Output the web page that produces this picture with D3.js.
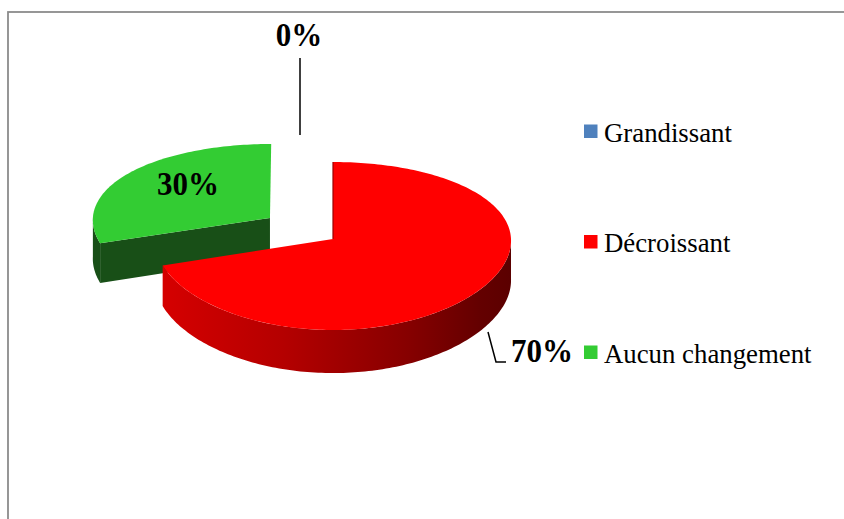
<!DOCTYPE html>
<html>
<head>
<meta charset="utf-8">
<script src="https://cdn.jsdelivr.net/npm/d3@7"></script>
<style>
  html, body { margin: 0; padding: 0; background: #fff; }
  svg { display: block; }
</style>
</head>
<body>
<svg id="chart" width="844" height="519"></svg>
<script>
// Répartition des réponses
const categories = ["Grandissant", "Décroissant", "Aucun changement"];
const values = [0, 70, 30];
const labels = ["0%", "70%", "30%"];
const colors = ["#4f81bd", "#ff0000", "#33cc33"];
const exploded = [false, false, true];

const svg = d3.select("#chart");

// chart frame
svg.append("rect")
  .attr("x", 8).attr("y", 12)
  .attr("width", 900).attr("height", 600)
  .attr("fill", "none")
  .attr("stroke", "#8c8c8c")
  .attr("stroke-width", 1.8);

// 3D pie projection: u = sin(angle), v = -cos(angle) on a unit disc,
// z = depth below the top face (scaled by perspective like the disc)
const cx = 333, cy = 239, RX = 178, RY = 83.4, kx = 0.02, ky = 0.0833, H = 39.5;
const explode = 0.44;
function proj(u, v, z) {
  return [cx + RX * u / (1 - kx * v), cy + (RY * v + z) / (1 - ky * v)];
}
function rim(a, off, z) {
  return proj(off[0] + Math.sin(a), off[1] - Math.cos(a), z);
}
function arcPts(a0, a1, off, z) {
  const n = Math.max(2, Math.ceil(Math.abs(a1 - a0) / 0.02));
  return d3.range(n + 1).map(i => rim(a0 + (a1 - a0) * i / n, off, z));
}
const line = d3.line();

const pie = d3.pie().sort(null).value(d => d)(values);

const defs = svg.append("defs");
const grad = defs.append("linearGradient")
  .attr("id", "sideRed")
  .attr("gradientUnits", "userSpaceOnUse")
  .attr("x1", 160).attr("y1", 0).attr("x2", 515).attr("y2", 0);
[[0, "#d60000"], [0.35, "#b40000"], [0.7, "#860000"], [0.9, "#640000"], [1, "#5a0000"]]
  .forEach(s => grad.append("stop").attr("offset", s[0]).attr("stop-color", s[1]));

const sideFill = ["#2a4a7a", "url(#sideRed)", "#184f17"];

const g = svg.append("g");
// draw back slices first (exploded slice sits behind)
const order = [2, 1, 0];
order.forEach(i => {
  const p = pie[i];
  if (p.endAngle - p.startAngle <= 0) return;
  const a0 = p.startAngle, a1 = p.endAngle, mid = (a0 + a1) / 2;
  const off = exploded[i] ? [explode * Math.sin(mid), -explode * Math.cos(mid)] : [0, 0];
  const c0 = proj(off[0], off[1], 0), c1 = proj(off[0], off[1], H);

  // radial face at the start edge, visible when it faces the viewer
  if (-Math.sin(a0) > 0.01) {
    const o0 = rim(a0, off, 0), o1 = rim(a0, off, H);
    g.append("path")
      .attr("d", line([c0, o0, o1, c1]) + "Z")
      .attr("fill", sideFill[i]);
  }
  // radial face at the end edge
  if (Math.sin(a1) > 0.01) {
    const o0 = rim(a1, off, 0), o1 = rim(a1, off, H);
    g.append("path")
      .attr("d", line([c0, o0, o1, c1]) + "Z")
      .attr("fill", sideFill[i]);
  }
  // outer wall on the front half
  const s0 = Math.max(a0, Math.PI / 2), s1 = Math.min(a1, 3 * Math.PI / 2);
  if (s1 > s0) {
    const top = arcPts(s0, s1, off, 0);
    const bot = arcPts(s1, s0, off, H);
    g.append("path")
      .attr("d", line(top.concat(bot)) + "Z")
      .attr("fill", sideFill[i]);
  }
  // top face
  const topFace = [c0].concat(arcPts(a0, a1, off, 0));
  g.append("path")
    .attr("d", line(topFace) + "Z")
    .attr("fill", colors[i]);
  // thin shaded edge along the slice start
  if (!exploded[i]) {
    g.append("path")
      .attr("d", line([c0, rim(a0, off, 0)]))
      .attr("stroke", "#9a0000")
      .attr("stroke-width", 1.2)
      .attr("fill", "none");
  }
});

// data labels
const font = "'Liberation Serif', 'Times New Roman', serif";
function label(txt, x, y, anchor) {
  svg.append("text")
    .attr("transform", `translate(${x},${y}) scale(1,1.07)`)
    .attr("text-anchor", anchor)
    .attr("font-family", font)
    .attr("font-weight", "bold")
    .attr("font-size", 31)
    .attr("fill", "#000")
    .text(txt);
}
label(labels[0], 299, 45.5, "middle");
label(labels[2], 188, 195, "middle");
label(labels[1], 511, 362, "start");

// leader lines
svg.append("path")
  .attr("d", line([[300, 58], [300, 135]]))
  .attr("stroke", "#000").attr("stroke-width", 1.5).attr("fill", "none");
svg.append("path")
  .attr("d", line([[488, 332], [496, 362], [506, 362]]))
  .attr("stroke", "#000").attr("stroke-width", 1.5).attr("fill", "none");

// legend
const ly = d3.scalePoint().domain(categories).range([141.5, 362.5]);
const leg = svg.append("g");
categories.forEach((c, i) => {
  const y = ly(c);
  leg.append("rect")
    .attr("x", 584).attr("y", y - 17)
    .attr("width", 13.5).attr("height", 13.5)
    .attr("fill", colors[i]);
  leg.append("text")
    .attr("transform", `translate(604,${y}) scale(1,1.03)`)
    .attr("font-family", font)
    .attr("font-size", 26.8)
    .attr("fill", "#000")
    .text(c);
});
</script>
</body>
</html>
